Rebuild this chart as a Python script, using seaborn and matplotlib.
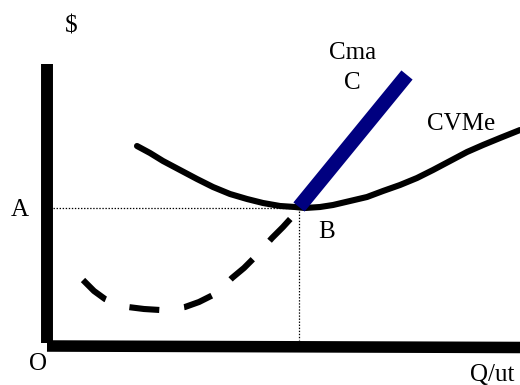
import numpy as np
import pandas as pd
import seaborn as sns
import matplotlib.pyplot as plt

sns.set_style("white")
plt.rcParams['font.family'] = ['Liberation Serif', 'DejaVu Serif']
plt.rcParams['text.color'] = 'black'
plt.rcParams['lines.scale_dashes'] = False

H = 385
cvme_q = [137, 150, 163, 180, 197, 213, 230, 247, 263, 280, 295, 305,
          320, 333, 350, 367, 383, 400, 417, 433, 450, 467, 483, 500, 520]
cvme_c = [146, 153, 161, 170, 179, 187, 194, 199, 203, 206, 207, 208,
          207, 205, 201, 197, 191, 185, 178, 170, 161, 152, 145, 138, 130]

cmg_low_q = [83, 94, 105, 117, 128, 144, 160, 172, 185, 199, 213, 222,
             232, 244, 255, 264, 272, 283, 293, 298]
cmg_low_c = [280, 291, 299, 304, 307, 309, 310, 309, 307, 302, 295, 288,
             278, 268, 257, 247, 238, 227, 216, 210]

cmg_high_q = [299, 407]
cmg_high_c = [207, 75]

point_b = (299, 208)

cvme = pd.DataFrame({'q': cvme_q, 'c': [H - v for v in cvme_c]})
cmg_low = pd.DataFrame({'q': cmg_low_q, 'c': [H - v for v in cmg_low_c]})
cmg_high = pd.DataFrame({'q': cmg_high_q, 'c': [H - v for v in cmg_high_c]})

fig = plt.figure(figsize=(5.2, 3.85), dpi=100)
ax = fig.add_axes([0, 0, 1, 1])
ax.set_xlim(0, 520)
ax.set_ylim(0, H)
ax.axis('off')

# axes drawn as thick black bars
ax.plot([47, 47], [H - 64, H - 343], color='black', lw=8.6, solid_capstyle='butt')
ax.plot([47, 520], [H - 346, H - 347.5], color='black', lw=8.3, solid_capstyle='butt')

# guide lines to point B
ax.plot([53, point_b[0]], [H - point_b[1]] * 2, color='black', lw=0.9, ls=(0, (1, 1.2)))
ax.plot([point_b[0]] * 2, [H - point_b[1], H - 340], color='black', lw=0.9, ls=(0, (1, 1.2)))

sns.lineplot(data=cvme, x='q', y='c', ax=ax, color='black', lw=4.4,
             sort=False, estimator=None).lines[-1].set_solid_joinstyle('round')
line = sns.lineplot(data=cmg_low, x='q', y='c', ax=ax, color='black', lw=4.4,
                    sort=False, estimator=None).lines[-1]
line.set_dashes((21.6, 18))
line.set_dash_capstyle('butt')
sns.lineplot(data=cmg_high, x='q', y='c', ax=ax, color='#000080', lw=10.4,
             sort=False, estimator=None).lines[-1].set_solid_capstyle('butt')

fs = 18
ax.text(71, H - 27, '$', fontsize=fs, ha='center', va='center')
ax.text(20, H - 210, 'A', fontsize=fs, ha='center', va='center')
ax.text(327, H - 232, 'B', fontsize=fs, ha='center', va='center')
ax.text(38, H - 364, 'O', fontsize=fs, ha='center', va='center')
ax.text(492, H - 381, 'Q/ut', fontsize=fs, ha='center', va='baseline')
ax.text(353, H - 53, 'Cma', fontsize=fs, ha='center', va='center')
ax.text(352, H - 83, 'C', fontsize=fs, ha='center', va='center')
ax.text(461, H - 124, 'CVMe', fontsize=fs, ha='center', va='center')

plt.savefig("out.png", dpi=100)
